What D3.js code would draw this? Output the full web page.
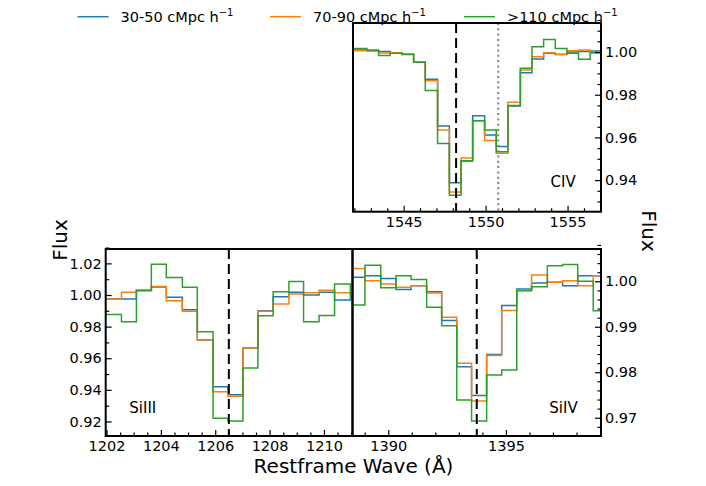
<!DOCTYPE html>
<html><head><meta charset="utf-8">
<script src="https://cdn.jsdelivr.net/npm/d3@7"></script>
<style>body{margin:0;background:#fff} svg{display:block} text{font-family:"DejaVu Sans",sans-serif;fill:#000}</style>
</head><body><svg id="c" width="706" height="486"></svg>
<script>
// ---------- data ----------
const seriesLabels = ["30-50 cMpc h", "70-90 cMpc h", ">110 cMpc h"];
const seriesColors = ["#1f77b4", "#ff7f0e", "#2ca02c"];

// CIV panel (bin edges in Å, flux per bin)
const civEdges  = [1541.34,1542.05,1542.76,1543.47,1544.18,1544.90,1545.61,1546.32,1547.07,1547.79,1548.50,1549.21,1549.94,1550.65,1551.36,1552.12,1552.83,1553.54,1554.25,1554.96,1555.67,1556.38,1557.09];
const civBlue   = [1.0009,1.0009,1.0006,1.0002,0.9997,0.9988,0.9952,0.9872,0.9653,0.9388,0.9489,0.9702,0.9611,0.9557,0.9747,0.9903,0.9967,0.9994,0.9989,1.0000,1.0003,1.0005];
const civOrange = [1.0006,1.0006,1.0005,0.9995,0.9997,0.9990,0.9952,0.9866,0.9635,0.9344,0.9504,0.9678,0.9585,0.9526,0.9765,0.9916,0.9978,0.9997,0.9990,1.0006,1.0009,0.9997];
const civGreen  = [1.0016,1.0016,1.0009,0.9984,0.9994,0.9990,0.9952,0.9820,0.9572,0.9329,0.9491,0.9678,0.9635,0.9533,0.9749,0.9924,1.0025,1.0059,1.0016,0.9994,0.9966,0.9997];

// SiIII panel
const si3Edges  = [1201.44,1202.00,1202.55,1203.10,1203.65,1204.20,1204.79,1205.34,1205.92,1206.47,1207.02,1207.57,1208.13,1208.71,1209.25,1209.82,1210.39,1210.97,1211.53];
const si3Blue   = [0.9975,0.9975,0.9975,1.0027,1.0050,0.9985,0.9907,0.9715,0.9420,0.9369,0.9665,0.9901,0.9989,1.0017,1.0000,1.0017,0.9968,0.9980];
const si3Orange = [0.9975,0.9975,1.0017,1.0030,1.0053,0.9964,0.9897,0.9715,0.9388,0.9359,0.9665,0.9897,0.9943,1.0006,1.0015,1.0030,1.0015,1.0010];
const si3Green  = [0.9876,0.9876,0.9830,1.0030,1.0194,1.0110,1.0049,0.9768,0.9220,0.9203,0.9538,0.9869,1.0021,1.0086,0.9831,0.9871,1.0070,0.9990];

// SiIV panel
const si4Edges  = [1388.37,1389.01,1389.68,1390.33,1390.97,1391.63,1392.27,1392.91,1393.54,1394.18,1394.82,1395.46,1396.09,1396.76,1397.41,1398.05,1398.71,1399.35];
const si4Blue   = [1.0009,1.0012,1.0006,0.9982,0.9990,0.9977,0.9914,0.9812,0.9749,0.9839,0.9947,0.9983,0.9996,0.9998,0.9990,1.0012,1.0012];
const si4Orange = [1.0028,1.0001,0.9994,0.9987,0.9990,0.9974,0.9921,0.9820,0.9737,0.9837,0.9936,0.9981,1.0014,0.9998,1.0001,0.9990,1.0012];
const si4Green  = [0.9948,1.0035,0.9986,1.0012,1.0004,0.9943,0.9902,0.9739,0.9693,0.9794,0.9805,0.9979,0.9988,1.0034,1.0037,1.0000,0.9935];

// tick values
const civXTicks = [1545,1550,1555];
const civYTicks = [0.94,0.96,0.98,1.00];
const si3XTicks = [1202,1204,1206,1208,1210];
const si3YTicks = [0.92,0.94,0.96,0.98,1.00,1.02];
const si4XTicks = [1390,1395];
const si4YTicks = [0.97,0.98,0.99,1.00];

// line markers
const civDashed = 1548.20, civDotted = 1550.77;
const si3Dashed = 1206.50;
const si4Dashed = 1393.76;

// ---------- layout ----------
const panels = [
  {id:"civ", x0:353, x1:601, y0:23, y1:211.7, xdom:[1541.91,1557.04], ydom:[0.9252,1.0136],
   edges:civEdges, series:[civBlue,civOrange,civGreen], xt:civXTicks, xminor:1, yt:civYTicks, yminor:0.005,
   yside:"right", label:"CIV", lx:550.5, ly:186.7, dashed:civDashed, dotted:civDotted, xfmt:d3.format("d"), yfmt:d3.format(".2f")},
  {id:"si3", x0:105.7, x1:352.5, y0:249, y1:436, xdom:[1201.97,1211.05], ydom:[0.9108,1.0291],
   edges:si3Edges, series:[si3Blue,si3Orange,si3Green], xt:si3XTicks, xminor:0.5, yt:si3YTicks, yminor:0.01,
   yside:"left", label:"SiIII", lx:129.3, ly:413.3, dashed:si3Dashed, xfmt:d3.format("d"), yfmt:d3.format(".2f")},
  {id:"si4", x0:352.5, x1:601, y0:249, y1:436, xdom:[1388.48,1399.04], ydom:[0.96598,1.0071],
   edges:si4Edges, series:[si4Blue,si4Orange,si4Green], xt:si4XTicks, xminor:1, yt:si4YTicks, yminor:0.002,
   yside:"right", label:"SiIV", lx:549.3, ly:413.3, dashed:si4Dashed, xfmt:d3.format("d"), yfmt:d3.format(".2f")}
];

const svg = d3.select("#c");
const FS = 14.5;

function range(a,b,s){const out=[];const n=Math.round((b-a)/s);for(let i=0;i<=n;i++)out.push(+(a+i*s).toFixed(6));return out;}

panels.forEach(p=>{
  const x = d3.scaleLinear().domain(p.xdom).range([p.x0,p.x1]);
  const y = d3.scaleLinear().domain(p.ydom).range([p.y1,p.y0]);
  const g = svg.append("g");
  const clipId = "clip-"+p.id;
  svg.append("clipPath").attr("id",clipId).append("rect")
    .attr("x",p.x0).attr("y",p.y0).attr("width",p.x1-p.x0).attr("height",p.y1-p.y0);

  const plot = g.append("g").attr("clip-path",`url(#${clipId})`);
  const line = d3.line().x(d=>x(d[0])).y(d=>y(d[1])).curve(d3.curveStepAfter);
  p.series.forEach((vals,si)=>{
    const pts = p.edges.map((e,i)=>[e, vals[Math.min(i, vals.length-1)]]);
    plot.append("path").attr("d",line(pts)).attr("fill","none")
      .attr("stroke",seriesColors[si]).attr("stroke-width",1.5);
  });
  // vertical markers
  plot.append("line").attr("x1",x(p.dashed)).attr("x2",x(p.dashed)).attr("y1",p.y0).attr("y2",p.y1)
    .attr("stroke","#000").attr("stroke-width",2).attr("stroke-dasharray","10,5");
  if(p.dotted!==undefined){
    plot.append("line").attr("x1",x(p.dotted)).attr("x2",x(p.dotted)).attr("y1",p.y0).attr("y2",p.y1)
      .attr("stroke","#808080").attr("stroke-width",2).attr("stroke-dasharray","2,3.3");
  }

  // x axis (inward ticks)
  const xMinorVals = range(Math.ceil(p.xdom[0]/p.xminor)*p.xminor, p.xdom[1], p.xminor).filter(v=>!p.xt.includes(v));
  const gxm = g.append("g").attr("transform",`translate(0,${p.y1})`)
    .call(d3.axisBottom(x).tickValues(xMinorVals).tickSize(-3.5).tickFormat(""));
  const gx = g.append("g").attr("transform",`translate(0,${p.y1})`)
    .call(d3.axisBottom(x).tickValues(p.xt).tickSize(-6).tickPadding(5).tickFormat(p.xfmt));
  // y axis
  const yMinorVals = range(Math.ceil(p.ydom[0]/p.yminor-1e-9)*p.yminor, p.ydom[1], p.yminor)
    .filter(v=>!p.yt.some(t=>Math.abs(t-v)<1e-9));
  const ax = p.yside==="right" ? d3.axisRight : d3.axisLeft;
  const tx = p.yside==="right" ? p.x1 : p.x0;
  const gym = g.append("g").attr("transform",`translate(${tx},0)`)
    .call(ax(y).tickValues(yMinorVals).tickSize(-3.5).tickFormat(""));
  const gy = g.append("g").attr("transform",`translate(${tx},0)`)
    .call(ax(y).tickValues(p.yt).tickSize(-6).tickPadding(4).tickFormat(p.yfmt));
  [gxm,gx,gym,gy].forEach(a=>{
    a.select(".domain").remove();
    a.selectAll(".tick line").attr("stroke","#000").attr("stroke-width",1.2);
    a.selectAll(".tick text").attr("font-size",FS).attr("font-family","DejaVu Sans").attr("fill","#000");
  });
  // spines
  g.append("rect").attr("x",p.x0).attr("y",p.y0).attr("width",p.x1-p.x0).attr("height",p.y1-p.y0)
    .attr("fill","none").attr("stroke","#000").attr("stroke-width",2);
  // panel label
  g.append("text").attr("x",p.lx).attr("y",p.ly).attr("font-size",15).text(p.label);
});

// axis titles
svg.append("text").attr("transform","translate(60,240) rotate(-90)").attr("text-anchor","middle")
  .attr("dy","0.35em").attr("font-size",20).text("Flux");
svg.append("text").attr("transform","translate(649,231) rotate(90)").attr("text-anchor","middle")
  .attr("dy","0.35em").attr("font-size",20).text("Flux");
svg.append("text").attr("x",353.5).attr("y",472.5).attr("text-anchor","middle")
  .attr("font-size",20).text("Restframe Wave (Å)");

// legend
const legX = [77.5, 270, 464];
seriesLabels.forEach((lab,i)=>{
  svg.append("line").attr("x1",legX[i]).attr("x2",legX[i]+31).attr("y1",16.7).attr("y2",16.7)
    .attr("stroke",seriesColors[i]).attr("stroke-width",1.5);
  const t = svg.append("text").attr("x",legX[i]+43).attr("y",21.5).attr("font-size",FS);
  t.append("tspan").text(lab);
  t.append("tspan").attr("font-size",10).attr("dy",-6).text("−1");
});
</script></body></html>
